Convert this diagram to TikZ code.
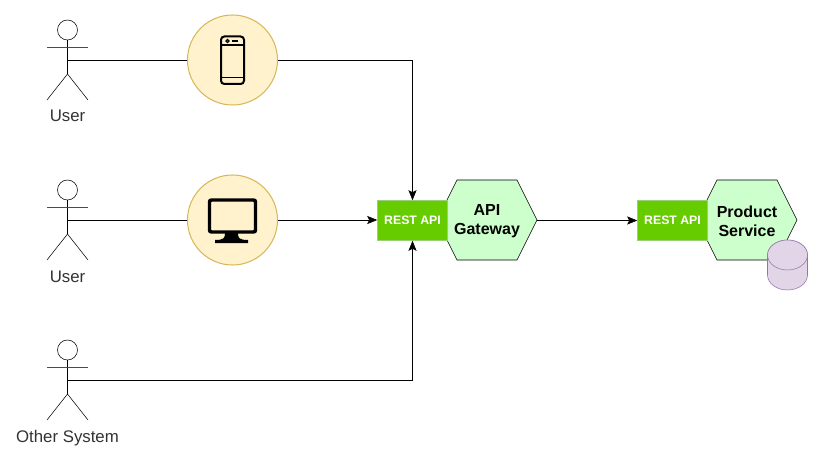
\documentclass[tikz,border=0pt]{standalone}
\usepackage{fontspec}
\setmainfont{Liberation Sans}
\usetikzlibrary{arrows.meta,shapes.geometric}
\definecolor{circfill}{HTML}{FFF2CC}
\definecolor{circline}{HTML}{D6B656}
\definecolor{restfill}{HTML}{66CC00}
\definecolor{restline}{HTML}{97D077}
\definecolor{hexfill}{HTML}{CCFFCC}
\definecolor{cylfill}{HTML}{E1D5E7}
\definecolor{cylline}{HTML}{9673A6}
\definecolor{labelgrey}{HTML}{333333}
\tikzset{
  x=0.75pt,y=-0.75pt,
  line width=0.75pt,
  conn/.style={draw=black,-{Stealth[length=7.5pt,width=6pt,inset=1.5pt]}},
  plainconn/.style={draw=black},
  iconcircle/.style={circle,draw=circline,fill=circfill,minimum size=67.5pt,inner sep=0pt,line width=0.75pt},
  restbox/.style={draw=restline,fill=restfill,minimum width=52.5pt,minimum height=30pt,inner sep=0pt,text=white,font=\bfseries\fontsize{9.2pt}{11pt}\selectfont},
  hexlabel/.style={align=center,inner sep=0pt,font=\bfseries\fontsize{12pt}{14.3pt}\selectfont},
  actorlabel/.style={inner sep=0pt,anchor=base,text=labelgrey,font=\fontsize{12.6pt}{14pt}\selectfont},
}
\newcommand{\actorfig}[1]{%
  \draw[black] (67.5,#1+30) circle (7.5pt);
  \draw[black] (67.5,#1+40) -- (67.5,#1+74);
  \draw[draw=black!70] (47,#1+47) -- (88,#1+47);
  \draw[black] (47,#1+100) -- (67.5,#1+74) -- (88,#1+100);
}
\newcommand{\hexshape}[1]{%
  \draw[black,fill=hexfill] (#1+20,180) -- (#1+80,180) -- (#1+100,220) -- (#1+80,260) -- (#1+20,260) -- (#1,220) -- cycle;
}
\begin{document}
\begin{tikzpicture}
\useasboundingbox (0,0) rectangle (823,463);
\fill[white] (0,0) rectangle (823,463);
% actors
\actorfig{0}
\actorfig{160}
\actorfig{320}
\coordinate (actorA) at (67.5,60);
\coordinate (actorB) at (67.5,220);
\coordinate (actorC) at (67.5,380);
\node[actorlabel] (labelA) at (67.5,122) {User};
\node[actorlabel] (labelB) at (67.5,282) {User};
\node[actorlabel] (labelC) at (67.5,442) {Other System};
% hexagons
\hexshape{437}
\hexshape{697}
% cylinder
\draw[cylline,fill=cylfill] (767.5,255) -- (767.5,275) arc[start angle=180,end angle=360,x radius=15pt,y radius=11.25pt] -- (807.5,255) arc[start angle=0,end angle=-180,x radius=15pt,y radius=-11.25pt] -- cycle;
\draw[cylline,fill=cylfill] (787.5,255) ellipse[x radius=15pt,y radius=11.25pt];
% rest boxes
\node[restbox] (restA) at (412.5,220.5) {REST API};
\node[restbox] (restB) at (672.5,220.5) {REST API};
\node[hexlabel] (gateway) at (487,221.5) {API\\Gateway};
\node[hexlabel] (product) at (747,221.5) {Product\\Service};
\coordinate (gatewayE) at (537,220.5);
% circles
\node[iconcircle] (phone) at (232.5,60) {};
\node[iconcircle] (monitor) at (232.5,220) {};
% phone icon
\draw[black,line width=1.5pt,rounded corners=2.5pt] (221,36.5) rectangle (244,84);
\draw[black,line width=1.3pt] (221,45) -- (244,45) (221,77.5) -- (244,77.5) (232,41) -- (237.5,41);
\draw[black,line width=0.9pt] (227.5,41) circle (1.1pt);
% monitor icon
\draw[black,line width=2.6pt,rounded corners=1.5pt] (209.5,200) rectangle (255.5,232);
\fill[black] (225,233) -- (238,233) .. controls (238,238) and (239,240) .. (248,240) -- (248,243) -- (215,243) -- (215,240) .. controls (224,240) and (225,238) .. (225,233) -- cycle;
% connectors
\draw[plainconn] (actorA) -- (phone);
\draw[plainconn] (actorB) -- (monitor);
\draw[conn] (phone.east) -| (restA.north);
\draw[conn] (monitor.east) -- (restA.west |- monitor.east);
\draw[conn] (actorC) -| (restA.south);
\draw[conn] (gatewayE) -- (restB.west);
\end{tikzpicture}
\end{document}
